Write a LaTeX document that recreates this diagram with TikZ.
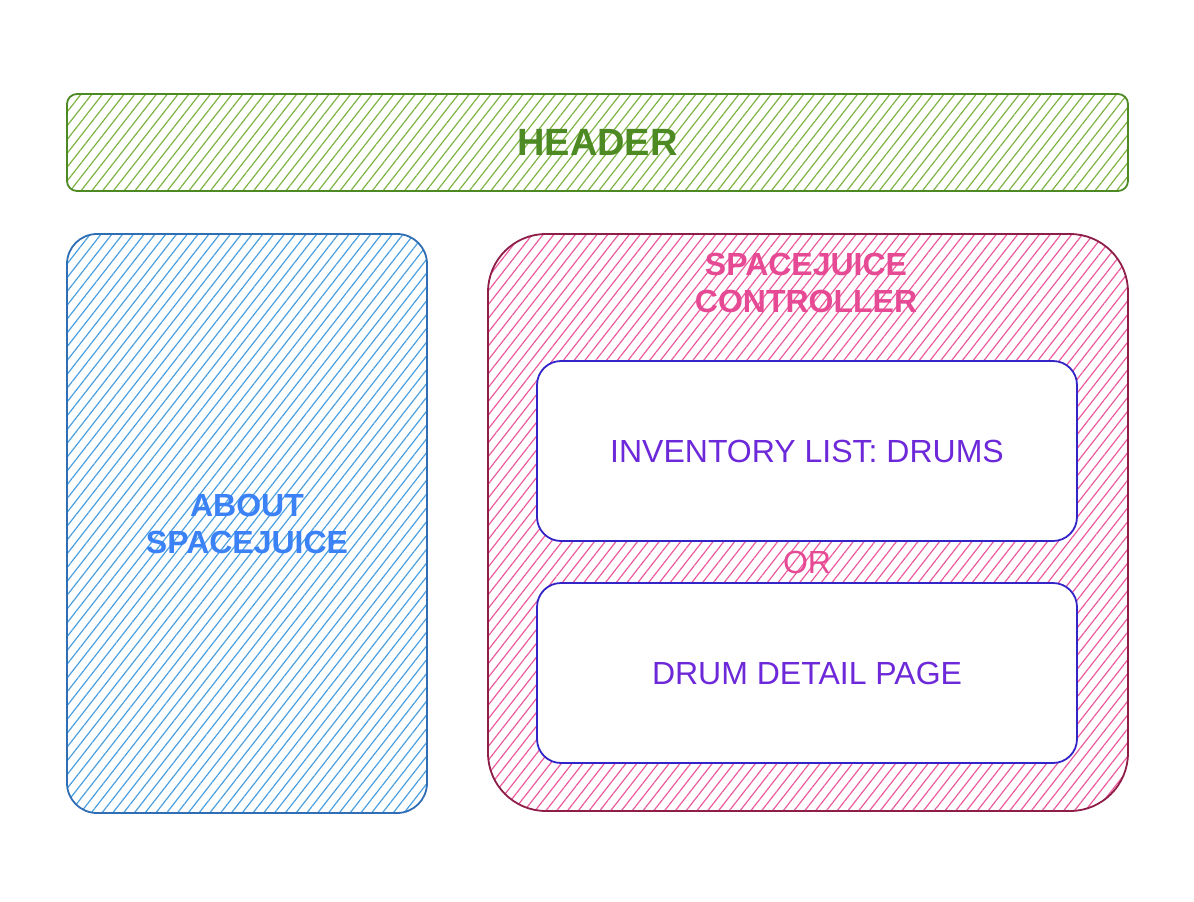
\documentclass[tikz,border=0pt]{standalone}
\usepackage{fontspec}
\setmainfont{Liberation Sans}
\usepackage{xcolor}
\definecolor{hdr}{HTML}{4E8A23}
\definecolor{hdr2}{HTML}{7DB342}
\definecolor{abt}{HTML}{2F6EB5}
\definecolor{abt2}{HTML}{4A9FE0}
\definecolor{abttx}{HTML}{3B82F6}
\definecolor{ctl}{HTML}{8E1D47}
\definecolor{ctl2}{HTML}{EC5A9E}
\definecolor{ctltx}{HTML}{E64A94}
\definecolor{inr}{HTML}{3324C8}
\definecolor{inrtx}{HTML}{6D28D9}
\usetikzlibrary{patterns.meta,positioning,calc}
\tikzset{
  hatch/.style={pattern={Lines[angle=52,distance=8.5pt,line width=1.2pt]},pattern color=#1},
  area/.style={line width=1.8pt,align=center,font=\fontsize{32}{37}\selectfont\bfseries},
  hdrbox/.style={area,draw=hdr,hatch=hdr2,rounded corners=10pt,text=hdr,font=\fontsize{38}{44}\selectfont\bfseries},
  abtbox/.style={area,draw=abt,hatch=abt2,rounded corners=30pt,text=abttx},
  ctlbox/.style={area,draw=ctl,hatch=ctl2,rounded corners=58pt},
  pagebox/.style={draw=inr,line width=1.8pt,fill=white,rounded corners=24pt,text=inrtx,font=\fontsize{32}{37}\selectfont},
  lab/.style={align=center,font=\fontsize{32}{37}\selectfont\bfseries,text=ctltx},
}
\begin{document}
\begin{tikzpicture}[x=1pt,y=-1pt]
\useasboundingbox (0,0) rectangle (1194,902);
\node[hdrbox,minimum width=1061,minimum height=97] (header) at (597.5,142.5) {HEADER};
\node[abtbox,minimum width=360,minimum height=579] (about) at (247,523.5) {ABOUT\\SPACEJUICE};
\node[ctlbox,minimum width=640,minimum height=577] (ctrl) at (808,522.5) {};
\node[lab] (ctrltitle) at (806,283) {SPACEJUICE\\CONTROLLER};
\node[pagebox,minimum width=540,minimum height=180] (inventory) at (807,451) {INVENTORY LIST: DRUMS};
\node[pagebox,minimum width=540,minimum height=180] (detail) at (807,673) {DRUM DETAIL PAGE};
\node[lab,font=\fontsize{32}{37}\selectfont] (or) at ($(inventory.south)!0.5!(detail.north)$) {OR};
\end{tikzpicture}
\end{document}
